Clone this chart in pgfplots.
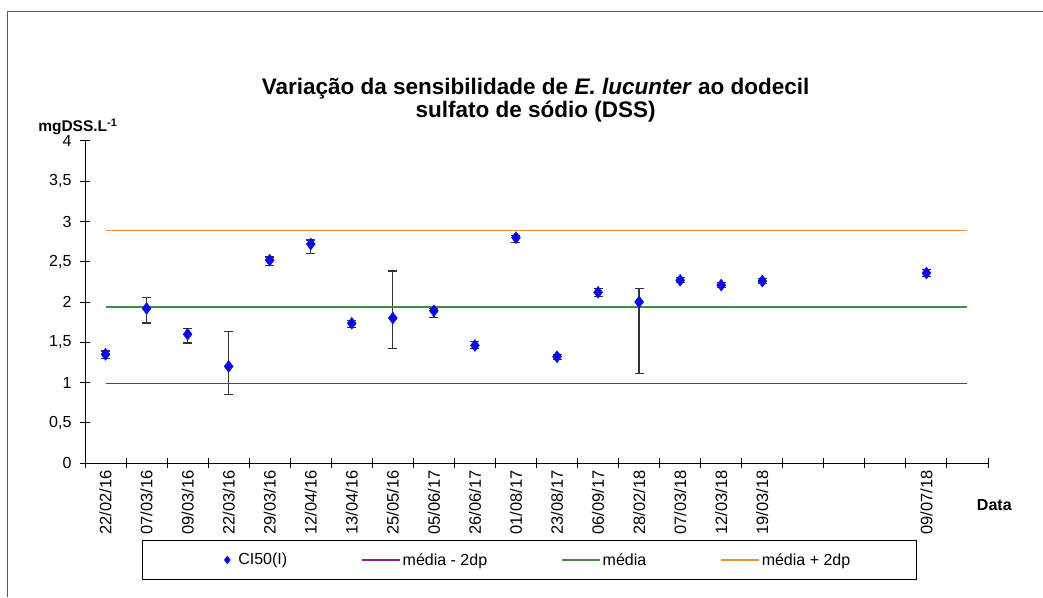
\documentclass[border=0pt]{standalone}
\usepackage{fontspec}
\setmainfont{Liberation Sans}
\usepackage{pgfplots}
\usepackage{pgfplotstable}
\pgfplotsset{compat=1.18}
\definecolor{ptblue}{RGB}{10,10,230}
\definecolor{lpurple}{RGB}{140,30,140}
\definecolor{lgreen}{RGB}{70,140,70}
\definecolor{lorange}{RGB}{225,150,50}
\pgfplotstableread{
x y ep em
0 1.35 0.04 0.05
1 1.92 0.14 0.18
2 1.60 0.07 0.11
3 1.20 0.43 0.35
4 2.52 0.04 0.07
5 2.72 0.05 0.12
6 1.735 0.035 0.055
7 1.80 0.585 0.38
8 1.89 0.03 0.085
9 1.46 0.05 0.04
10 2.80 0.03 0.06
11 1.32 0.03 0.03
12 2.12 0.05 0.05
13 2.00 0.17 0.89
14 2.27 0.03 0.03
15 2.21 0.03 0.03
16 2.26 0.03 0.03
20 2.36 0.04 0.04
}\cidata
\begin{document}
\begin{tikzpicture}[x=1pt,y=1pt]
\path[use as bounding box] (0,0) rectangle (1043,597);
\draw[line width=1.6pt, black!65] (7.5,0) -- (7.5,585.5) -- (1043,585.5);
\begin{axis}[
  at={(85pt,134pt)}, anchor=south west,
  scale only axis, width=903pt, height=322pt,
  xmin=-0.5, xmax=21.5, ymin=0, ymax=4,
  axis x line=bottom, axis y line=left,
  axis line style={-, line width=1pt, black},
  tick align=center, major tick length=10pt,
  every tick/.style={black, line width=1pt},
  ytick={0,0.5,...,4},
  yticklabels={0,{0,5},1,{1,5},2,{2,5},3,{3,5},4},
  yticklabel style={font=\fontsize{16}{16}\selectfont, xshift=-5pt},
  xtick={-0.5,0.5,...,21.5},
  xticklabels={},
  extra x ticks={0,1,2,3,4,5,6,7,8,9,10,11,12,13,14,15,16,20},
  extra x tick labels={22/02/16,07/03/16,09/03/16,22/03/16,29/03/16,12/04/16,13/04/16,25/05/16,05/06/17,26/06/17,01/08/17,23/08/17,06/09/17,28/02/18,07/03/18,12/03/18,19/03/18,09/07/18},
  extra x tick style={major tick length=0pt, tick style={draw=none}},
  xticklabel shift=4pt,
  xticklabel style={rotate=90, anchor=east, font=\fontsize{16.5}{16.5}\selectfont},
  title={Variação da sensibilidade de \textit{E. lucunter} ao dodecil\\sulfato de sódio (DSS)},
  title style={at={(rel axis cs:0.499,1.107)}, anchor=center, align=center, font=\bfseries\fontsize{22.5}{23}\selectfont},
  ylabel={mgDSS.L\textsuperscript{-1}},
  ylabel style={at={(rel axis cs:-0.008,1.043)}, anchor=center, rotate=-90, font=\bfseries\fontsize{15.5}{15.5}\selectfont},
  xlabel={Data},
  xlabel style={at={(rel axis cs:1.007,-0.13)}, anchor=center, font=\bfseries\fontsize{16}{16}\selectfont},
  legend columns=4,
  legend style={at={(rel axis cs:0.492,-0.301)}, anchor=center, draw=black, line width=1pt,
    font=\fontsize{16}{16}\selectfont, inner xsep=64pt, inner ysep=11pt,
    /tikz/every even column/.append style={column sep=72pt}},
  legend image code/.code={\draw[#1, line width=1.5pt] (0pt,0pt) -- (38pt,0pt);},
]
\addplot[only marks, mark=diamond*, mark size=6pt, color=ptblue,
  error bars/.cd, y dir=both, y explicit,
  error bar style={black!80, line width=1.3pt},
  error mark options={rotate=90, mark size=4.5pt, line width=1.3pt, black!80},
  /pgfplots/legend image code/.code={\path[draw=none] (0pt,0pt) -- (30pt,0pt);\draw[mark=diamond*, mark size=3.5pt, ptblue] plot coordinates {(21pt,0pt)};}]
  table[x=x, y=y, y error plus=ep, y error minus=em] {\cidata};
\addlegendentry{CI50(I)}
\addplot[lpurple, line width=1.5pt] coordinates {(0,0.99) (21,0.99)};
\addlegendentry{média - 2dp}
\addplot[lgreen, line width=1.5pt] coordinates {(0,1.94) (21,1.94)};
\addlegendentry{média}
\addplot[lorange, line width=1.5pt] coordinates {(0,2.89) (21,2.89)};
\addlegendentry{média + 2dp}
\end{axis}
\end{tikzpicture}
\end{document}
